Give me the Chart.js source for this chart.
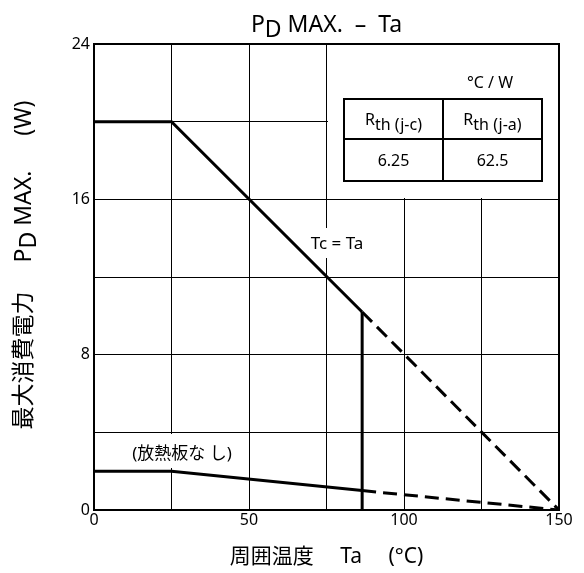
<!DOCTYPE html>
<html>
<head>
<meta charset="utf-8">
<script src="https://cdn.jsdelivr.net/npm/chart.js@4/dist/chart.umd.min.js"></script>
<style>
  html, body { margin: 0; padding: 0; background: #fff; }
  canvas { display: block; }
</style>
</head>
<body>
<canvas id="chart" width="584" height="573"></canvas>
<script>
// Axis tick labels (grid is drawn every 25 °C / 4 W, labels every 50 °C / 8 W)
const tempTickLabels = [0, 50, 100, 150];
const powerTickLabels = [0, 8, 16, 24];

// Derating curve with infinite heat sink (Tc = Ta)
const sinkSolidTa = [0, 25, 86.5];
const sinkSolidPd = [20, 20, 10.2];
const sinkDashedTa = [86.5, 150];
const sinkDashedPd = [10.2, 0];

// Vertical limit line
const limitTa = [86.5, 86.5];
const limitPd = [10.2, 0];

// Derating curve without heat sink
const freeSolidTa = [0, 25, 86.5];
const freeSolidPd = [2, 2, 1.0];
const freeDashedTa = [86.5, 150];
const freeDashedPd = [1.0, 0];

// Thermal resistance table (°C / W)
const rthHeaders = ['(j-c)', '(j-a)'];
const rthValues = ['6.25', '62.5'];

const FONT = "'Noto Sans', 'Noto Sans CJK JP', sans-serif";

function pts(xs, ys) { return xs.map((x, i) => ({ x, y: ys[i] })); }

function lineSet(xs, ys, dashed) {
  return {
    data: pts(xs, ys),
    borderColor: '#000',
    borderWidth: 3,
    borderDash: dashed ? [14, 7] : [],
    pointRadius: 0,
    tension: 0,
    fill: false,
    borderCapStyle: 'butt',
    borderJoinStyle: 'miter'
  };
}

// Draws text made of runs with vertical offsets (for subscripts), centred on x
function drawRuns(ctx, runs, x, y, font) {
  ctx.font = font;
  const widths = runs.map(r => ctx.measureText(r[0]).width);
  const total = widths.reduce((a, b) => a + b, 0);
  let cx = x - total / 2;
  ctx.textAlign = 'left';
  runs.forEach((r, i) => {
    ctx.fillText(r[0], cx, y + r[1]);
    cx += widths[i];
  });
}

const overlayPlugin = {
  id: 'overlay',
  beforeDatasetsDraw(chart) {
    const { ctx, scales: { x, y }, chartArea: a } = chart;
    ctx.save();
    ctx.fillStyle = '#fff';
    // clear grid behind the table
    const x0 = Math.round(x.getPixelForValue(75)) + 1;
    const y1 = Math.round(y.getPixelForValue(16)) - 1;
    ctx.fillRect(x0, a.top, a.right - x0, y1 - a.top);
    // clear grid behind the curve labels
    ctx.fillRect(306, 228, 62, 30);
    ctx.fillRect(126, 434, 112, 34);
    ctx.restore();
  },
  afterDraw(chart) {
    const { ctx, chartArea: a } = chart;
    ctx.save();
    ctx.fillStyle = '#000';
    ctx.strokeStyle = '#000';

    // plot frame
    ctx.lineWidth = 2;
    ctx.strokeRect(a.left, a.top, a.right - a.left, a.bottom - a.top);

    // title
    ctx.textBaseline = 'alphabetic';
    drawRuns(ctx, [['P', 0], ['D', 5], [' MAX.  \u2013  Ta', 0]], (a.left + a.right) / 2, 32, `23px ${FONT}`);

    // x axis title
    drawRuns(ctx, [['周囲温度　 Ta　 (°C)', 0]], (a.left + a.right) / 2, 563, `21px ${FONT}`);

    // y axis title (rotated)
    ctx.save();
    ctx.translate(31, 265);
    ctx.rotate(-Math.PI / 2);
    drawRuns(ctx, [['最大消費電力　 P', 0], ['D', 5], [' MAX.　  (W)', 0]], 0, 0, `23px ${FONT}`);
    ctx.restore();

    // curve labels
    drawRuns(ctx, [['Tc = Ta', 0]], 337, 249, `17px ${FONT}`);
    drawRuns(ctx, [['(放熱板な し)', 0]], 182, 459, `17px ${FONT}`);

    // thermal resistance table
    const tl = 344, tr = 542, tm = 443, tt = 99, tmid = 139, tb = 181;
    ctx.lineWidth = 2;
    ctx.strokeRect(tl, tt, tr - tl, tb - tt);
    ctx.beginPath();
    ctx.moveTo(tl, tmid); ctx.lineTo(tr, tmid);
    ctx.moveTo(tm, tt); ctx.lineTo(tm, tb);
    ctx.stroke();
    drawRuns(ctx, [['°C / W', 0]], 490, 88, `16px ${FONT}`);
    const cols = [(tl + tm) / 2, (tm + tr) / 2];
    rthHeaders.forEach((h, i) => {
      drawRuns(ctx, [['R', -3], ['th ' + h, 2]], cols[i], 128, `16px ${FONT}`);
      drawRuns(ctx, [[rthValues[i], 0]], cols[i], 166, `16px ${FONT}`);
    });
    ctx.restore();
  }
};

new Chart(document.getElementById('chart'), {
  type: 'line',
  data: {
    datasets: [
      lineSet(sinkSolidTa, sinkSolidPd, false),
      lineSet(sinkDashedTa, sinkDashedPd, true),
      lineSet(limitTa, limitPd, false),
      lineSet(freeSolidTa, freeSolidPd, false),
      lineSet(freeDashedTa, freeDashedPd, true)
    ]
  },
  options: {
    responsive: false,
    animation: false,
    devicePixelRatio: 1,
    layout: { padding: { top: 44, right: 25, left: 0, bottom: 0 } },
    plugins: {
      legend: { display: false },
      tooltip: { enabled: false },
      title: { display: false }
    },
    scales: {
      x: {
        type: 'linear',
        min: 0, max: 150,
        afterFit(s) { s.height = 63; },
        ticks: {
          stepSize: 25,
          autoSkip: false,
          maxRotation: 0,
          color: '#000',
          padding: 1,
          font: { family: FONT, size: 16 },
          callback: v => tempTickLabels.includes(v) ? String(v) : ''
        },
        grid: { color: '#000', lineWidth: 1, drawTicks: false },
        border: { display: false }
      },
      y: {
        type: 'linear',
        min: 0, max: 24,
        afterFit(s) { s.width = 94; },
        ticks: {
          stepSize: 4,
          autoSkip: false,
          color: '#000',
          padding: 4,
          font: { family: FONT, size: 16 },
          callback: v => powerTickLabels.includes(v) ? String(v) : ''
        },
        grid: { color: '#000', lineWidth: 1, drawTicks: false },
        border: { display: false }
      }
    }
  },
  plugins: [overlayPlugin]
});
</script>
</body>
</html>
